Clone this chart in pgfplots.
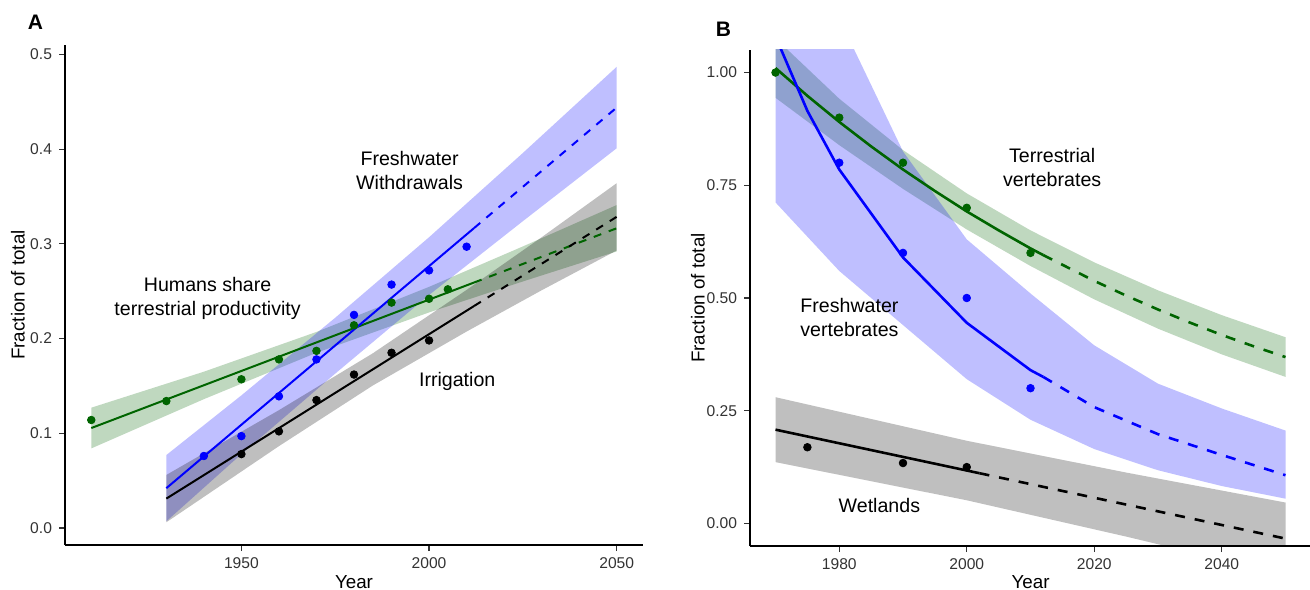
\documentclass[border=0pt]{standalone}
\usepackage{fontspec}
\setmainfont{Liberation Sans}
\usepackage{pgfplots}
\pgfplotsset{compat=1.18}
\definecolor{fgreen}{HTML}{006400}
\definecolor{fblue}{HTML}{0000FF}

\newcommand\annfont{\fontsize{9.8}{12}\selectfont}

\pgfplotsset{
  panel/.style={
    scale only axis, anchor=south west,
    axis lines*=left,
    axis line style={-, line width=0.9pt, black},
    tick align=outside, major tick length=3pt,
    tick style={line width=0.6pt, black!80},
    tick label style={font=\fontsize{7.8}{9}\selectfont, text=black!80},
    /pgf/number format/assume math mode=true,
    x tick label style={/pgf/number format/1000 sep={}},
    label style={font=\fontsize{9.4}{11}\selectfont},
    xlabel=Year, ylabel=Fraction of total,
    clip=true,
  },
  rib/.style={draw=none, fill=#1, fill opacity=0.25, forget plot},
  pts/.style={only marks, mark=*, mark size=1.9pt, color=#1, mark options={draw=#1, fill=#1}},
}

\begin{document}
\begin{tikzpicture}
\useasboundingbox (0,0) rectangle (655pt,294.5pt);

% ---------------- panel A ----------------
\begin{axis}[panel,
  at={(32.5pt,22pt)}, width=289pt, height=250pt,
  xmin=1903, xmax=2057, ymin=-0.018, ymax=0.51,
  xtick={1950,2000,2050}, ytick={0,0.1,0.2,0.3,0.4,0.5},
  yticklabel style={/pgf/number format/.cd, fixed, fixed zerofill, precision=1},
  xlabel style={at={(axis description cs:0.5,-0.086)}, anchor=base},
  ylabel style={at={(axis description cs:-0.0813,0.5)}, anchor=center},
]
% ribbons
\addplot[rib=fgreen] coordinates {
  (1910,0.127) (1940,0.165) (1970,0.207) (2000,0.2546) (2025,0.2973) (2050,0.341)
  (2050,0.292) (2025,0.2603) (2000,0.2276) (1970,0.185) (1940,0.136) (1910,0.084)};
\addplot[rib=fblue] coordinates {
  (1930,0.077) (1950,0.140) (1975,0.222) (2000,0.307) (2025,0.396) (2050,0.487)
  (2050,0.401) (2025,0.324) (2000,0.246) (1975,0.163) (1950,0.078) (1930,0.007)};
\addplot[rib=black] coordinates {
  (1930,0.056) (1960,0.1244) (1985,0.1844) (2010,0.2514) (2030,0.307) (2050,0.3641)
  (2050,0.2931) (2030,0.251) (2010,0.2074) (1985,0.1504) (1960,0.0864) (1930,0.006)};
% fitted lines
\addplot[fgreen, line width=1pt] coordinates {(1910,0.1055) (2012,0.2592)};
\addplot[fgreen, line width=1pt, dash pattern=on 4pt off 4pt] coordinates {(2012,0.2592) (2050,0.3165)};
\addplot[fblue, line width=1pt] coordinates {(1930,0.042) (2012,0.3167)};
\addplot[fblue, line width=1pt, dash pattern=on 4pt off 4pt] coordinates {(2012,0.3167) (2050,0.444)};
\addplot[black, line width=1pt] coordinates {(1930,0.031) (2012,0.2344)};
\addplot[black, line width=1pt, dash pattern=on 4pt off 4pt] coordinates {(2012,0.2344) (2050,0.3286)};
% observations
\addplot[pts=fgreen] coordinates {(1910,0.114) (1930,0.134) (1950,0.157) (1960,0.178)
  (1970,0.187) (1980,0.214) (1990,0.238) (2000,0.242) (2005,0.252)};
\addplot[pts=fblue] coordinates {(1940,0.076) (1950,0.097) (1960,0.139) (1970,0.178)
  (1980,0.225) (1990,0.257) (2000,0.272) (2010,0.297)};
\addplot[pts=black] coordinates {(1950,0.078) (1960,0.102) (1970,0.135)
  (1980,0.162) (1990,0.185) (2000,0.198)};
% labels
\node[font=\annfont, align=center] at (axis cs:1994.8,0.378) {Freshwater\\Withdrawals};
\node[font=\annfont, align=center] at (axis cs:1941,0.2426) {Humans share\\terrestrial productivity};
\node[font=\annfont] at (axis cs:2007.5,0.155) {Irrigation};
\end{axis}

% ---------------- panel B ----------------
\begin{axis}[panel,
  at={(375pt,21.5pt)}, width=280.5pt, height=248pt,
  xmin=1966, xmax=2054, ymin=-0.05, ymax=1.05,
  xtick={1980,2000,2020,2040}, ytick={0,0.25,0.5,0.75,1},
  yticklabel style={/pgf/number format/.cd, fixed, fixed zerofill, precision=2},
  xlabel style={at={(axis description cs:0.5,-0.0847)}, anchor=base},
  ylabel style={at={(axis description cs:-0.0927,0.5)}, anchor=center},
]
% ribbons
\addplot[rib=fgreen] coordinates {
  (1970,1.076) (1980,0.942) (1990,0.828) (2000,0.732) (2010,0.650) (2020,0.579) (2030,0.517) (2040,0.462) (2050,0.413)
  (2050,0.325) (2040,0.375) (2030,0.432) (2020,0.497) (2010,0.571) (2000,0.652) (1990,0.742) (1980,0.839) (1970,0.944)};
\addplot[rib=fblue] coordinates {
  (1970,1.50) (1980,1.12) (1990,0.825) (2000,0.63) (2010,0.51) (2020,0.395) (2030,0.31) (2040,0.255) (2050,0.206)
  (2050,0.055) (2040,0.083) (2030,0.118) (2020,0.165) (2010,0.23) (2000,0.32) (1990,0.44) (1980,0.56) (1970,0.712)};
\addplot[rib=black] coordinates {
  (1970,0.280) (2000,0.1834) (2025,0.1129) (2050,0.0464)
  (2050,-0.1136) (2025,-0.0291) (2000,0.0514) (1970,0.136)};
% fitted curves
\addplot[fgreen, line width=1.3pt] coordinates {(1970,1.010) (1975,0.9484) (1980,0.8905) (1985,0.8362)
  (1990,0.785) (1995,0.7373) (2000,0.692) (2005,0.6501) (2010,0.610) (2012,0.5952)};
\addplot[fgreen, line width=1.3pt, dash pattern=on 5pt off 5pt] coordinates {(2012,0.5952) (2020,0.538)
  (2025,0.5053) (2030,0.4745) (2035,0.4455) (2040,0.418) (2045,0.3929) (2050,0.369)};
\addplot[fblue, line width=1.3pt] coordinates {(1970,1.08) (1975,0.915) (1980,0.785) (1990,0.59)
  (2000,0.445) (2010,0.34) (2012,0.325)};
\addplot[fblue, line width=1.3pt, dash pattern=on 5pt off 5pt] coordinates {(2012,0.325) (2020,0.258)
  (2030,0.198) (2040,0.152) (2050,0.107)};
\addplot[black, line width=1.3pt] coordinates {(1970,0.208) (2002,0.1114)};
\addplot[black, line width=1.3pt, dash pattern=on 5pt off 5pt] coordinates {(2002,0.1114) (2050,-0.0336)};
% observations
\addplot[pts=fgreen] coordinates {(1970,1.00) (1980,0.90) (1990,0.80) (2000,0.70) (2010,0.60)};
\addplot[pts=fblue] coordinates {(1980,0.80) (1990,0.60) (2000,0.50) (2010,0.30)};
\addplot[pts=black] coordinates {(1975,0.169) (1990,0.134) (2000,0.125)};
% labels
\node[font=\annfont, align=center] at (axis cs:2013.4,0.789) {Terrestrial\\vertebrates};
\node[font=\annfont, align=center] at (axis cs:1981.6,0.456) {Freshwater\\vertebrates};
\node[font=\annfont] at (axis cs:1986.3,0.039) {Wetlands};
\end{axis}

\node[font=\fontsize{10.5}{12}\selectfont\bfseries] at (17.75pt,283.25pt) {A};
\node[font=\fontsize{10.5}{12}\selectfont\bfseries] at (361.75pt,279.75pt) {B};
\end{tikzpicture}
\end{document}
